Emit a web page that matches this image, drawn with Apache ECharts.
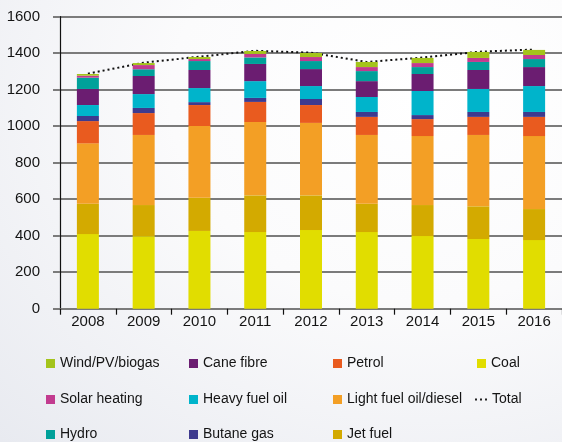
<!DOCTYPE html>
<html>
<head>
<meta charset="utf-8">
<script src="https://cdn.jsdelivr.net/npm/echarts@6/dist/echarts.min.js"></script>
<style>
  html, body { margin: 0; padding: 0; }
  body {
    width: 562px; height: 442px; overflow: hidden;
    background: radial-gradient(ellipse at 75% 22%, #ffffff 0%, #fbfbfc 42%, #e8eaf0 100%);
  }
  #chart { width: 562px; height: 442px; }
</style>
</head>
<body>
<div id="chart"></div>
<script>
// Energy supply by source, 2008-2016 (ktoe)
const years = ['2008', '2009', '2010', '2011', '2012', '2013', '2014', '2015', '2016'];

const coal      = [409, 397, 426, 420, 431, 420, 398, 382, 376];
const jetFuel   = [166, 171, 182, 201, 190, 155, 170, 179, 170];
const lightOil  = [331, 384, 393, 402, 397, 377, 378, 391, 400];
const petrol    = [122, 120, 115, 110,  98,  99,  93,  99, 105];
const butane    = [ 28,  28,  16,  22,  33,  27,  22,  27,  27];
const heavyOil  = [ 60,  76,  77,  92,  71,  82, 132, 126, 142];
const caneFibre = [ 88,  99,  99,  94,  93,  87,  93, 104, 104];
const hydro     = [ 62,  37,  49,  36,  44,  55,  38,  44,  44];
const solar     = [ 11,  23,  11,  19,  22,  22,  22,  22,  22];
const windPv    = [  9,  11,  11,  16,  22,  28,  28,  33,  28];
const total     = [1288, 1348, 1381, 1413, 1403, 1352, 1376, 1408, 1420];

const yTicks = [0, 200, 400, 600, 800, 1000, 1200, 1400, 1600];

const FONT = '"Liberation Sans", Arial, sans-serif';
const TEXT = '#141414';
const GRID = '#7b7b7b';

const stackDefs = [
  { name: 'Coal',                   data: coal,      color: '#e1dd00' },
  { name: 'Jet fuel',               data: jetFuel,   color: '#d3aa00' },
  { name: 'Light fuel oil/diesel',  data: lightOil,  color: '#f39f25' },
  { name: 'Petrol',                 data: petrol,    color: '#e95b1f' },
  { name: 'Butane gas',             data: butane,    color: '#3e3a8e' },
  { name: 'Heavy fuel oil',         data: heavyOil,  color: '#00b4cb' },
  { name: 'Cane fibre',             data: caneFibre, color: '#6b1d71' },
  { name: 'Hydro',                  data: hydro,     color: '#00a19a' },
  { name: 'Solar heating',          data: solar,     color: '#c23b8f' },
  { name: 'Wind/PV/biogas',         data: windPv,    color: '#a4c41b' }
];

const series = stackDefs.map(d => ({
  name: d.name,
  type: 'bar',
  stack: 'supply',
  barWidth: 22,
  data: d.data,
  itemStyle: { color: d.color },
  z: 3
}));

series.push({
  name: 'Total',
  type: 'line',
  data: total,
  symbol: 'none',
  lineStyle: { color: '#111', width: 2, type: [2, 3] },
  itemStyle: { color: '#111' },
  z: 2
});

// legend grid: 4 columns x 3 rows, filled column by column
const legendCols = [
  ['Wind/PV/biogas', 'Solar heating', 'Hydro'],
  ['Cane fibre', 'Heavy fuel oil', 'Butane gas'],
  ['Petrol', 'Light fuel oil/diesel', 'Jet fuel'],
  ['Coal', 'Total']
];
const colLeft = [46, 189, 333, 477];
const rowCenter = [363.5, 399.5, 434.5];

const legends = [];
legendCols.forEach((col, ci) => {
  col.forEach((name, ri) => {
    const isTotal = name === 'Total';
    legends.push({
      data: [isTotal
        ? { name, icon: 'path://M0,0h2v2h-2zM5,0h2v2h-2zM10,0h2v2h-2z', itemStyle: { color: '#222' } }
        : { name, icon: 'rect' }],
      left: isTotal ? colLeft[ci] - 2 : colLeft[ci],
      top: rowCenter[ri] - 9,
      itemWidth: isTotal ? 12 : 9,
      itemHeight: isTotal ? 2 : 9,
      itemGap: 0,
      itemTextGap: isTotal ? 5 : 8,
      padding: 0,
      selectedMode: false,
      textStyle: { fontFamily: FONT, fontSize: 14, color: TEXT, lineHeight: 18 }
    });
  });
});

const chart = echarts.init(document.getElementById('chart'), null, { renderer: 'canvas' });
chart.setOption({
  animation: false,
  backgroundColor: 'transparent',
  grid: { left: 60, top: 16.7, width: 503, height: 292, containLabel: false },
  legend: legends,
  xAxis: {
    type: 'category',
    data: years,
    boundaryGap: true,
    axisLine: { show: true, lineStyle: { color: GRID, width: 2 } },
    axisTick: { show: true, alignWithLabel: false, length: 6, lineStyle: { color: '#111', width: 1.2 } },
    axisLabel: { fontFamily: FONT, fontSize: 15, color: TEXT, margin: 6 },
    splitLine: { show: false }
  },
  yAxis: {
    type: 'value',
    min: yTicks[0],
    max: yTicks[yTicks.length - 1],
    interval: yTicks[1] - yTicks[0],
    axisLine: { show: true, lineStyle: { color: '#111', width: 1.2 } },
    axisTick: { show: true, length: 7, lineStyle: { color: GRID, width: 2 } },
    axisLabel: { fontFamily: FONT, fontSize: 15, color: TEXT, margin: 20, formatter: v => String(v) },
    splitLine: { show: true, lineStyle: { color: GRID, width: 2 } }
  },
  series: series
});
</script>
</body>
</html>
